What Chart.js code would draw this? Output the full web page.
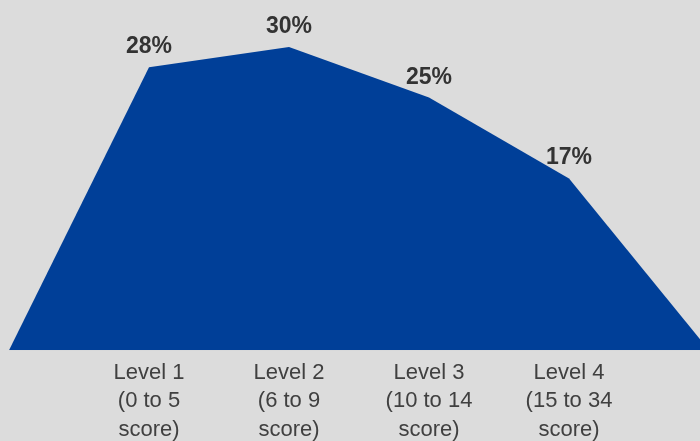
<!DOCTYPE html>
<html>
<head>
<meta charset="utf-8">
<script src="https://cdn.jsdelivr.net/npm/chart.js@4"></script>
<style>
    html, body { margin: 0; padding: 0; background: #dcdcdc; overflow: hidden; width: 700px; height: 441px; }
    canvas { display: block; }
</style>
</head>
<body>
<canvas id="levelChart" width="709" height="444"></canvas>
<script>
const categories = [
    '',
    ['Level 1', '(0 to 5', 'score)'],
    ['Level 2', '(6 to 9', 'score)'],
    ['Level 3', '(10 to 14', 'score)'],
    ['Level 4', '(15 to 34', 'score)'],
    ''
];
const shares = [0, 28, 30, 25, 17, 0];
const shareLabels = ['', '28%', '30%', '25%', '17%', ''];

// percent labels above each point
const pointLabels = {
    id: 'pointLabels',
    afterDatasetsDraw(chart) {
        const ctx = chart.ctx;
        const meta = chart.getDatasetMeta(0);
        ctx.save();
        ctx.font = "bold 23px 'Liberation Sans', Arial, sans-serif";
        ctx.fillStyle = '#333333';
        ctx.textAlign = 'center';
        ctx.textBaseline = 'alphabetic';
        meta.data.forEach((pt, i) => {
            if (!shareLabels[i]) return;
            ctx.fillText(shareLabels[i], pt.x, pt.y - 14);
        });
        ctx.restore();
    }
};

new Chart(document.getElementById('levelChart'), {
    type: 'line',
    data: {
        labels: categories,
        datasets: [{
            data: shares,
            fill: 'origin',
            backgroundColor: '#003f98',
            borderWidth: 0,
            pointRadius: 0,
            tension: 0
        }]
    },
    options: {
        responsive: false,
        animation: false,
        layout: { padding: { left: 9, right: 0, top: 0, bottom: 0 } },
        plugins: {
            legend: { display: false },
            tooltip: { enabled: false }
        },
        scales: {
            x: {
                offset: false,
                grid: { display: false },
                border: { display: false },
                ticks: {
                    autoSkip: false,
                    maxRotation: 0,
                    padding: 0,
                    color: '#404040',
                    font: { family: "'Liberation Sans', Arial, sans-serif", size: 22, lineHeight: 1.3 }
                }
            },
            y: {
                display: false,
                min: 0,
                max: 34.66
            }
        }
    },
    plugins: [pointLabels]
});
</script>
</body>
</html>
